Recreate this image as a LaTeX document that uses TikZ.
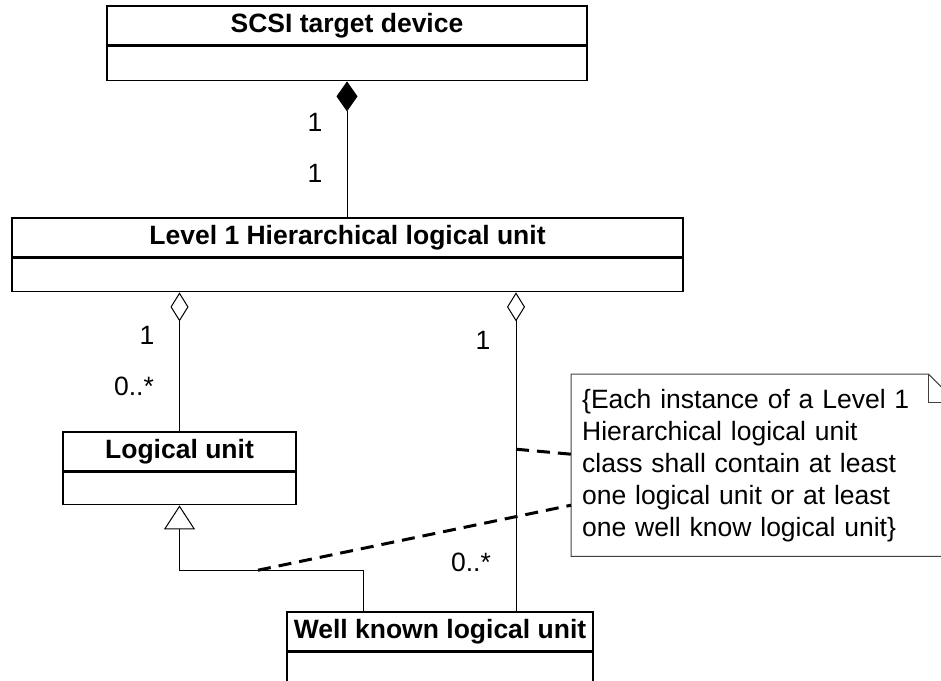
\documentclass[tikz,border=0pt]{standalone}
\usepackage{fontspec}
\setmainfont{Liberation Sans}
\usetikzlibrary{arrows.meta, calc}
\tikzset{
  classhead/.style={draw, line width=1.6pt, minimum height=39pt, inner sep=0pt, font=\bfseries\fontsize{26.5}{32}\selectfont},
  classbody/.style={draw, line width=1.6pt, anchor=north, inner sep=0pt},
  mult/.style={inner sep=0pt, font=\fontsize{26.5}{32}\selectfont},
  assoc/.style={line width=1pt, black},
  notetext/.style={anchor=north west, minimum width=385pt, minimum height=182pt, text width=363pt, inner xsep=11pt, inner ysep=0pt, align=left, font=\fontsize{26.5}{32}\selectfont},
  notebox/.style={line width=1pt, black!75},
  notelink/.style={line width=3pt, dash pattern=on 13pt off 8pt},
}

\begin{document}
\begin{tikzpicture}[x=1pt, y=-1pt]
  \clip (0,0) rectangle (941,680);

  % classes
  \node[classhead, minimum width=480pt] (ScsiDev) at (347,25.5) {SCSI target device};
  \node[classbody, minimum width=480pt, minimum height=34pt] (ScsiDevBody) at (ScsiDev.south) {};
  \node[classhead, minimum width=671pt] (LevelOne) at (347.5,237.5) {Level 1 Hierarchical logical unit};
  \node[classbody, minimum width=671pt, minimum height=33pt] (LevelOneBody) at (LevelOne.south) {};
  \node[classhead, minimum width=233pt] (LogUnit) at (179.5,451.5) {Logical unit};
  \node[classbody, minimum width=233pt, minimum height=32pt] (LogUnitBody) at (LogUnit.south) {};
  \node[classhead, minimum width=306pt] (WellKnown) at (440,631.5) {Well known logical unit};
  \node[classbody, minimum width=306pt, minimum height=34pt] (WellKnownBody) at (WellKnown.south) {};

  % constraint note
  \node[notetext] (Note) at (571,374) {\{Each instance of a Level 1\\Hierarchical logical unit\\class shall contain at least\\one logical unit or at least\\one well know logical unit\}};
  \draw[notebox] (Note.north west) -- ([xshift=-28pt]Note.north east) -- ([yshift=-28pt]Note.north east) -- (Note.south east) -- (Note.south west) -- cycle;% Draw note outline
  \draw[notebox] ([xshift=-28pt]Note.north east) |- ([yshift=-28pt]Note.north east);% Draw folded corner

  \coordinate (WkAgg) at ([xshift=76pt]WellKnown.north);
  \coordinate (WkGen) at ([xshift=-77pt]WellKnown.north);

  % relations
  \draw[assoc, {Diamond[width=21pt, length=30pt]}-] (ScsiDevBody.south) -- (ScsiDevBody.south |- LevelOne.north);% composition
  \draw[assoc, {Diamond[open, width=18pt, length=29pt]}-] (LogUnit.north |- LevelOneBody.south) -- (LogUnit.north);% aggregation
  \draw[assoc, {Diamond[open, width=18pt, length=29pt]}-] (WkAgg |- LevelOneBody.south) -- (WkAgg);% aggregation
  \draw[assoc, -{Triangle[open, width=31pt, length=24pt]}] (WkGen) -- ++(0,-41) coordinate (GenBend) -| (LogUnitBody.south);% generalization

  \coordinate (GenPt) at ($(GenBend)+(-105,0)$);
  \coordinate (AggPt) at ($(WkAgg)+(0,-162)$);
  \draw[notelink] (AggPt) -- ([yshift=11pt]Note.west);
  \draw[notelink] (GenPt) -- ([yshift=-40pt]Note.west);

  % multiplicities
  \node[mult] (ScsiMult) at (315,122) {1};
  \node[mult] (LevelMult) at (315,173) {1};
  \node[mult] (LuAggMult) at (147,335) {1};
  \node[mult] (LuMult) at (134,386) {0..*};
  \node[mult] (WkAggMult) at (483,340) {1};
  \node[mult] (WkMult) at (471,562) {0..*};
\end{tikzpicture}
\end{document}
